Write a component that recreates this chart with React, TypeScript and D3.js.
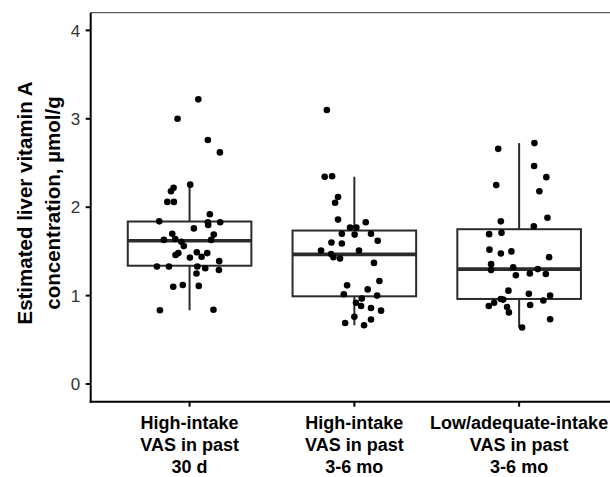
import { useMemo } from 'react'
import * as d3 from 'd3'

const WIDTH = 610
const HEIGHT = 477
const PANEL = { left: 90.7, right: 618, top: 12.7, bottom: 401.7 }

const categories = ['g1', 'g2', 'g3']
const categoryLabels = [
  ['High-intake', 'VAS in past', '30 d'],
  ['High-intake', 'VAS in past', '3-6 mo'],
  ['Low/adequate-intake', 'VAS in past', '3-6 mo'],
]
const yTicks = [0, 1, 2, 3, 4]

// box stats: lower whisker, q1, median, q3, upper whisker
const lowerWhisker = [0.834, 0.665, 0.64]
const q1 = [1.338, 0.992, 0.962]
const medians = [1.62, 1.466, 1.3]
const q3 = [1.838, 1.736, 1.751]
const upperWhisker = [2.255, 2.345, 2.725]

// jitter offsets (fraction of category step) and values per group
const jitter1 = [
  0.053, -0.073, 0.111, 0.184, -0.097, -0.113, -0.135, -0.095, 0.123, -0.184,
  0.111, 0.186, 0.113, 0.026, -0.105, 0.147, -0.156, -0.087, 0.131, -0.05,
  -0.035, -0.068, -0.085, 0.044, 0.107, 0.002, 0.073, 0.18, -0.198, -0.125,
  0.047, 0.095, 0.178, 0.042, -0.099, -0.041, 0.056, -0.18, 0.145, 0.004,
]
const values1 = [
  3.22, 3.0, 2.76, 2.62, 2.22, 2.18, 2.06, 2.06, 1.92, 1.84,
  1.83, 1.83, 1.8, 1.76, 1.7, 1.69, 1.63, 1.64, 1.63, 1.61,
  1.56, 1.48, 1.46, 1.49, 1.48, 1.43, 1.44, 1.39, 1.33, 1.33,
  1.33, 1.31, 1.29, 1.25, 1.1, 1.12, 1.11, 0.834, 0.84, 2.255,
]
const jitter2 = [
  -0.167, -0.18, -0.135, -0.099, -0.117, -0.099, 0.069, -0.026, 0.012, -0.076,
  0.002, 0.101, 0.142, -0.139, -0.076, -0.202, 0.028, -0.141, -0.127, -0.087,
  0.119, 0.152, -0.044, 0.081, -0.064, 0.138, 0.045, 0.01, 0.041, 0.101,
  0.162, 0.0, 0.101, -0.056, 0.059,
]
const values2 = [
  3.1, 2.345, 2.35, 2.116, 2.05, 1.86, 1.83, 1.77, 1.77, 1.7,
  1.69, 1.7, 1.62, 1.6, 1.59, 1.51, 1.51, 1.47, 1.435, 1.42,
  1.37, 1.165, 1.116, 1.07, 1.015, 1.0, 0.966, 0.92, 0.883, 0.86,
  0.83, 0.76, 0.73, 0.69, 0.665,
]
const jitter3 = [
  0.093, -0.127, 0.091, 0.165, -0.139, 0.123, -0.111, 0.172, 0.089, -0.182,
  -0.107, -0.18, -0.111, -0.047, 0.182, -0.17, -0.17, -0.036, 0.113, -0.02,
  0.065, 0.162, -0.065, 0.059, 0.188, -0.111, -0.097, 0.147, -0.152, -0.184,
  0.067, -0.073, -0.062, 0.188, 0.018,
]
const values3 = [
  2.725, 2.66, 2.466, 2.34, 2.25, 2.18, 1.84, 1.88, 1.785, 1.695,
  1.71, 1.52, 1.477, 1.5, 1.435, 1.356, 1.29, 1.32, 1.3, 1.23,
  1.25, 1.245, 1.056, 1.02, 1.0, 0.962, 0.955, 0.944, 0.92, 0.883,
  0.894, 0.87, 0.81, 0.733, 0.64,
]

const jitters = [jitter1, jitter2, jitter3]
const values = [values1, values2, values3]

export default function App() {
  const xScale = useMemo(
    () => d3.scalePoint().domain(categories).range([PANEL.left, PANEL.right]).padding(0.6),
    []
  )
  const yScale = useMemo(
    () => d3.scaleLinear().domain([-0.2, 4.2]).range([PANEL.bottom, PANEL.top]),
    []
  )
  const step = xScale.step()
  const boxHalf = (step * 0.75) / 2

  const boxes = categories.map((c, i) => {
    const cx = xScale(c)
    return (
      <g key={c} stroke="#2b2b2b" fill="white">
        <line x1={cx} x2={cx} y1={yScale(upperWhisker[i])} y2={yScale(q3[i])} strokeWidth={2} />
        <line x1={cx} x2={cx} y1={yScale(q1[i])} y2={yScale(lowerWhisker[i])} strokeWidth={2} />
        <rect
          x={cx - boxHalf}
          width={boxHalf * 2}
          y={yScale(q3[i])}
          height={yScale(q1[i]) - yScale(q3[i])}
          strokeWidth={2}
        />
        <line
          x1={cx - boxHalf}
          x2={cx + boxHalf}
          y1={yScale(medians[i])}
          y2={yScale(medians[i])}
          strokeWidth={3.6}
        />
      </g>
    )
  })

  const points = categories.map((c, i) =>
    values[i].map((v, j) => (
      <circle key={c + j} cx={xScale(c) + jitters[i][j] * step} cy={yScale(v)} r={3.3} fill="black" />
    ))
  )

  return (
    <svg
      width={WIDTH}
      height={HEIGHT}
      style={{ position: 'absolute', left: 0, top: 0, display: 'block', fontFamily: 'Liberation Sans, Arial, sans-serif' }}
    >
      <rect width="100%" height="100%" fill="white" />
      {/* thin top border */}
      <line x1={PANEL.left} x2={WIDTH} y1={PANEL.top} y2={PANEL.top} stroke="#333333" strokeWidth={1} />
      {boxes}
      {points}
      {/* y axis */}
      <line x1={PANEL.left} x2={PANEL.left} y1={PANEL.top} y2={PANEL.bottom + 1} stroke="black" strokeWidth={2} />
      {yTicks.map((t) => (
        <g key={t}>
          <line x1={PANEL.left - 5} x2={PANEL.left} y1={yScale(t)} y2={yScale(t)} stroke="black" strokeWidth={2} />
          <text x={PANEL.left - 10.5} y={yScale(t)} dy="0.36em" textAnchor="end" fontSize={17} fill="#333333">
            {t}
          </text>
        </g>
      ))}
      {/* x axis */}
      <line x1={PANEL.left - 1} x2={WIDTH} y1={PANEL.bottom} y2={PANEL.bottom} stroke="black" strokeWidth={2} />
      {categories.map((c, i) => (
        <g key={c}>
          <line x1={xScale(c)} x2={xScale(c)} y1={PANEL.bottom} y2={PANEL.bottom + 5} stroke="black" strokeWidth={2} />
          <text x={xScale(c)} textAnchor="middle" fontSize={18} fontWeight="bold" fill="black">
            {categoryLabels[i].map((l, k) => (
              <tspan key={k} x={xScale(c)} y={429 + k * 22}>
                {l}
              </tspan>
            ))}
          </text>
        </g>
      ))}
      {/* y title */}
      <text transform="translate(0,203) rotate(-90)" textAnchor="middle" fontSize={20.5} fontWeight="bold" fill="black">
        <tspan x={0} y={32}>Estimated liver vitamin A</tspan>
        <tspan x={0} y={60}>concentration, µmol/g</tspan>
      </text>
    </svg>
  )
}
